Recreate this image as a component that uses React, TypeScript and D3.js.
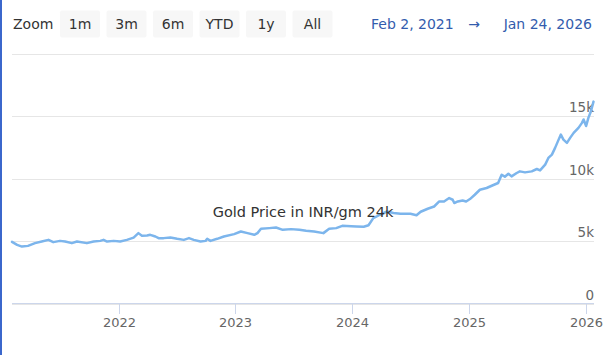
import React from "react";
import * as d3 from "d3";

const W = 603;
const H = 355;

const zoomButtons = ["1m", "3m", "6m", "YTD", "1y", "All"];
const rangeStart = "Feb 2, 2021";
const rangeEnd = "Jan 24, 2026";
const seriesName = "Gold Price in INR/gm 24k";

const yTicks = [0, 5000, 10000, 15000, 20000];
const yTickLabels = ["0", "5k", "10k", "15k", ""];
const xTickDates = ["2022-01-01", "2023-01-01", "2024-01-01", "2025-01-01", "2026-01-01"];
const xTickLabels = ["2022", "2023", "2024", "2025", "2026"];

const dates = [
  "2021-02-02", "2021-02-18", "2021-03-05", "2021-03-24", "2021-04-15", "2021-05-06", "2021-05-27",
  "2021-06-11", "2021-07-02", "2021-07-18", "2021-08-08", "2021-08-24", "2021-09-24", "2021-10-15",
  "2021-11-05", "2021-11-15", "2021-11-26", "2021-12-17", "2022-01-06", "2022-01-27", "2022-02-17",
  "2022-03-04", "2022-03-15", "2022-03-31", "2022-04-10", "2022-04-26", "2022-05-06", "2022-05-22",
  "2022-06-12", "2022-07-03", "2022-07-24", "2022-08-09", "2022-08-24", "2022-09-14", "2022-09-30",
  "2022-10-05", "2022-10-15", "2022-11-05", "2022-11-26", "2022-12-28", "2023-01-18", "2023-02-08",
  "2023-03-01", "2023-03-11", "2023-03-22", "2023-04-17", "2023-05-08", "2023-05-29", "2023-06-24",
  "2023-07-20", "2023-08-10", "2023-09-04", "2023-10-03", "2023-10-21", "2023-11-12", "2023-12-01",
  "2023-12-29", "2024-01-14", "2024-02-06", "2024-02-21", "2024-03-07", "2024-03-28", "2024-04-19",
  "2024-05-09", "2024-05-31", "2024-07-01", "2024-07-20", "2024-08-02", "2024-08-24", "2024-09-13",
  "2024-09-29", "2024-10-14", "2024-10-30", "2024-11-10", "2024-11-15", "2024-11-26", "2024-12-11",
  "2024-12-22", "2025-01-03", "2025-01-18", "2025-02-03", "2025-02-24", "2025-03-12", "2025-04-01",
  "2025-04-12", "2025-04-22", "2025-05-03", "2025-05-13", "2025-05-29", "2025-06-08", "2025-06-24",
  "2025-07-15", "2025-07-31", "2025-08-10", "2025-08-26", "2025-09-05", "2025-09-16", "2025-09-26",
  "2025-10-07", "2025-10-14", "2025-10-22", "2025-11-02", "2025-11-12", "2025-11-23", "2025-12-08",
  "2025-12-19", "2025-12-24", "2026-01-01", "2026-01-08", "2026-01-16", "2026-01-24",
];

const prices = [
  4930, 4690, 4555, 4610, 4830, 4955, 5090,
  4910, 5010, 4955, 4830, 4955, 4830, 4955,
  5010, 5090, 4955, 5010, 4955, 5090, 5275,
  5630, 5415, 5440, 5495, 5360, 5230, 5230,
  5275, 5175, 5090, 5230, 5090, 4955, 5010,
  5175, 5010, 5175, 5360, 5550, 5760, 5630,
  5495, 5630, 5975, 6030, 6080, 5895, 5950,
  5895, 5815, 5760, 5630, 5975, 6030, 6215,
  6175, 6160, 6135, 6255, 6830, 7100, 7360,
  7235, 7180, 7180, 7060, 7340, 7580, 7760,
  8165, 8165, 8435, 8300, 8035, 8165, 8245,
  8165, 8355, 8700, 9100, 9240, 9420, 9640,
  10300, 10145, 10385, 10170, 10440, 10570, 10490,
  10570, 10760, 10650, 11110, 11645, 11910, 12450,
  13110, 13510, 13110, 12850, 13250, 13650, 14050,
  14450, 14720, 14200, 14850, 15380, 16150,
];

const FONT = "'DejaVu Sans', Verdana, sans-serif";

export default function App() {
  const parse = d3.timeParse("%Y-%m-%d");
  const data = dates.map((d, i) => ({ date: parse(d) as Date, value: prices[i] }));

  const x = d3
    .scaleTime()
    .domain([parse("2021-02-02") as Date, parse("2026-01-24") as Date])
    .range([12, 593.5]);
  const y = d3.scaleLinear().domain([0, 20000]).range([303.5, 53.5]);

  const line = d3
    .line<{ date: Date; value: number }>()
    .x((d) => x(d.date))
    .y((d) => y(d.value));

  const btnX0 = 60;
  const btnStride = 46.5;
  const btnW = 40;

  return (
    <div style={{ position: "fixed", left: 0, top: 0, width: W, height: H, background: "#fff" }}>
      <svg width={W} height={H} style={{ display: "block", fontFamily: FONT }}>
        <rect x={0} y={0} width={W} height={H} fill="#fff" />
        <rect x={0} y={0} width={2} height={H} fill="#3b67cc" />

        {/* range selector */}
        <text x={13} y={29} fontSize={14} fill="#333">Zoom</text>
        {zoomButtons.map((b, i) => (
          <g key={b}>
            <rect x={btnX0 + i * btnStride} y={10.5} width={btnW} height={27} rx={2} fill="#f7f7f7" />
            <text x={btnX0 + i * btnStride + btnW / 2} y={29} fontSize={14} fill="#333" textAnchor="middle">
              {b}
            </text>
          </g>
        ))}
        <text x={371} y={29} fontSize={14} fill="#335cad">{rangeStart}</text>
        <text x={474} y={29} fontSize={14} fill="#335cad" textAnchor="middle">→</text>
        <text x={592} y={29} fontSize={14} fill="#335cad" textAnchor="end">{rangeEnd}</text>

        {/* grid */}
        {yTicks.map((t) => (
          <line key={t} x1={12} x2={594} y1={Math.round(y(t)) + 0.5} y2={Math.round(y(t)) + 0.5}
            stroke="#e6e6e6" strokeWidth={1} />
        ))}
        {yTicks.map((t, i) =>
          yTickLabels[i] ? (
            <text key={"l" + t} x={594} y={y(t) - 4} fontSize={13.5} fill="#666" textAnchor="end">
              {yTickLabels[i]}
            </text>
          ) : null
        )}

        {/* x axis */}
        <line x1={12} x2={594} y1={303.5} y2={303.5} stroke="#ccd6eb" strokeWidth={1} />
        {xTickDates.map((d, i) => {
          const px = Math.round(x(parse(d) as Date)) + 0.5;
          return (
            <g key={d}>
              <line x1={px} x2={px} y1={304} y2={314} stroke="#ccd6eb" strokeWidth={1} />
              <text x={px} y={327} fontSize={13} fill="#666" textAnchor="middle">{xTickLabels[i]}</text>
            </g>
          );
        })}

        {/* series */}
        <path d={line(data) || ""} fill="none" stroke="#7cb5ec" strokeWidth={2.5}
          strokeLinejoin="round" strokeLinecap="round" />
        <text x={303} y={217} fontSize={14.5} fill="#333" textAnchor="middle">{seriesName}</text>
      </svg>
    </div>
  );
}
